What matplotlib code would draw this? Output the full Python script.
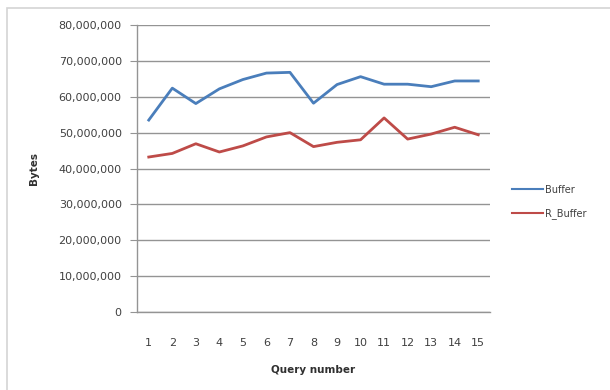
import matplotlib
matplotlib.use("Agg")
import matplotlib.pyplot as plt
from matplotlib.patches import Rectangle
from matplotlib.ticker import FuncFormatter, MultipleLocator

queries = list(range(1, 16))
buffer_vals = [53.5e6, 62.4e6, 58.1e6, 62.2e6, 64.8e6, 66.6e6, 66.8e6, 58.2e6,
               63.4e6, 65.6e6, 63.5e6, 63.5e6, 62.8e6, 64.4e6, 64.4e6]
rbuffer_vals = [43.2e6, 44.2e6, 46.9e6, 44.6e6, 46.3e6, 48.8e6, 50.0e6, 46.1e6,
                47.3e6, 48.0e6, 54.1e6, 48.2e6, 49.6e6, 51.5e6, 49.4e6]
series_names = ["Buffer", "R_Buffer"]
x_label = "Query number"
y_label = "Bytes"

W, H = 610, 390
fig = plt.figure(figsize=(W / 100, H / 100), dpi=100)
fig.patch.set_facecolor("white")

# outer chart frame (only left/top edges visible)
fig.patches.append(Rectangle((7 / W, -0.05), 1.2, (H - 8) / H + 0.05,
                             transform=fig.transFigure, fill=False,
                             edgecolor="#d4d4d4", linewidth=1.2))

ax = fig.add_axes([137 / W, (H - 312) / H, 353 / W, (312 - 25) / H])
ax.plot(queries, buffer_vals, color="#4a7ebb", lw=2.0, label=series_names[0])
ax.plot(queries, rbuffer_vals, color="#be4b48", lw=2.0, label=series_names[1])

ax.set_xlim(0.5, 15.5)
ax.set_ylim(0, 80e6)
ax.yaxis.set_major_locator(MultipleLocator(10e6))
ax.yaxis.set_major_formatter(FuncFormatter(lambda v, p: f"{int(v):,}"))
ax.set_xticks(queries)
ax.grid(axis="y", color="#949494", lw=1.0)
ax.set_axisbelow(True)
for s in ["top", "right"]:
    ax.spines[s].set_visible(False)
for s in ["left", "bottom"]:
    ax.spines[s].set_color("#949494")
    ax.spines[s].set_linewidth(1.0)
ax.tick_params(axis="y", length=5, color="#949494", labelsize=8,
               labelcolor="#404040", pad=6)
ax.tick_params(axis="x", length=0, labelsize=8, labelcolor="#404040", pad=19)

ax.set_xlabel(x_label, fontsize=7.5, fontweight="bold", color="#303030", labelpad=12)
ax.set_ylabel(y_label, fontsize=7.5, fontweight="bold", color="#303030", labelpad=14)

leg = fig.legend(loc="upper left", bbox_to_anchor=(503 / W, 1 - 176 / H),
                 frameon=False, fontsize=7, handlelength=3.2, handletextpad=0.2,
                 labelspacing=1.4, labelcolor="#404040")
for line in leg.get_lines():
    line.set_linewidth(1.5)

fig.savefig("out.png", dpi=100, facecolor="white")
